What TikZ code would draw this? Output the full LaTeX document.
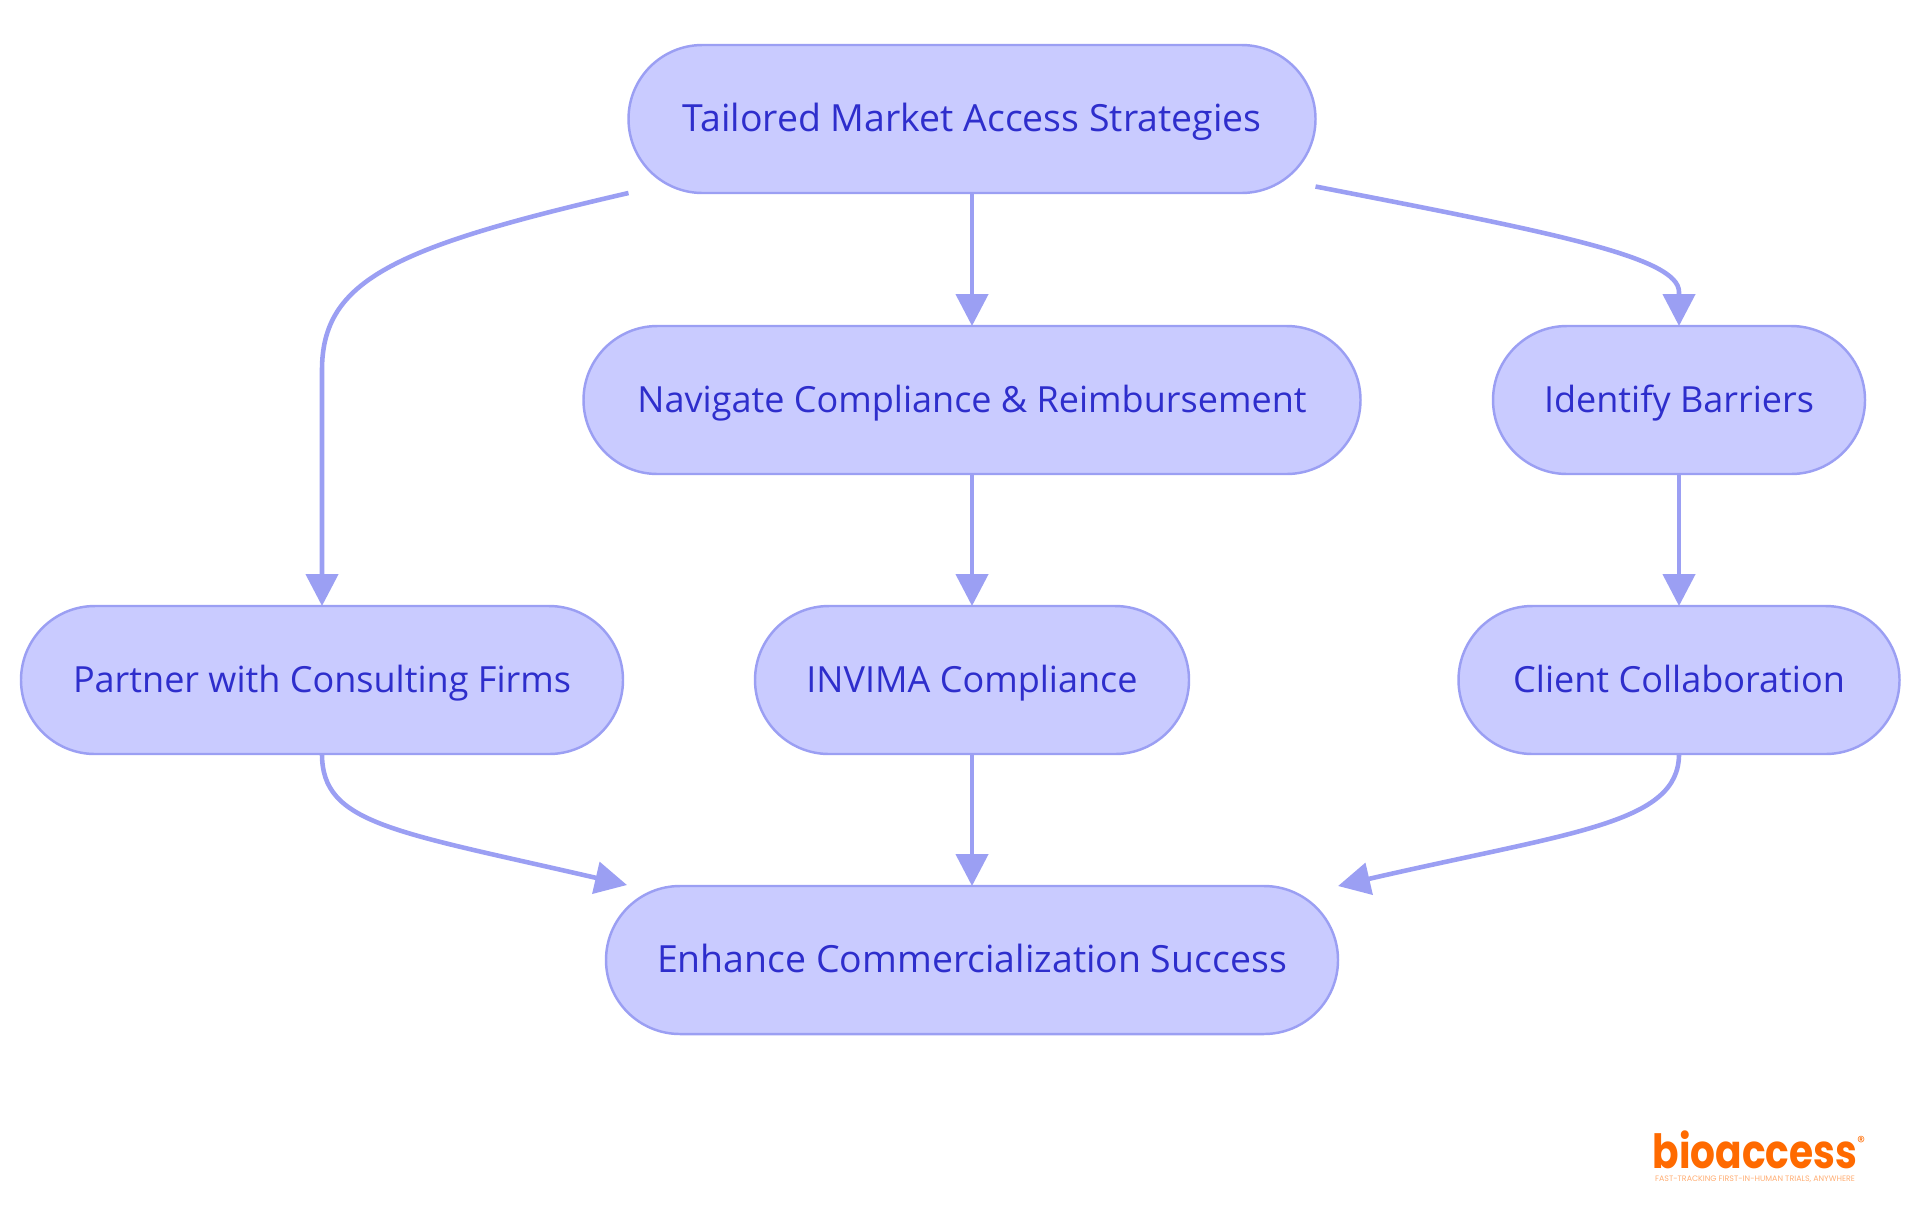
\documentclass[tikz,border=0pt]{standalone}
\usepackage{fontspec}
\setmainfont{Open Sans}
\newfontfamily\logofont{Poppins}
\usetikzlibrary{arrows.meta,calc}
\definecolor{boxfill}{HTML}{C9CBFF}
\definecolor{boxline}{HTML}{9B9FF3}
\definecolor{boxtext}{HTML}{2E2ECC}
\definecolor{logoorange}{HTML}{FF6A00}
\tikzset{
  flowbox/.style={draw=boxline,fill=boxfill,text=boxtext,line width=0.7pt,rounded corners=0.74cm,
    minimum height=1.48cm,inner sep=0pt,outer sep=0pt,text height=0.4cm,text depth=0.16cm,
    font=\fontsize{10.25}{12}\selectfont},
  widebox/.style={flowbox,font=\fontsize{10.65}{12}\selectfont},
  flowline/.style={draw=boxline,line width=1.3pt,-{Triangle[length=0.32cm,width=0.32cm]}},
}
\begin{document}
\begin{tikzpicture}
        \useasboundingbox (0,0) rectangle (19.2,-12.15);

        \node[widebox,minimum width=6.87cm] (tailored) at (9.72,-1.19) {Tailored Market Access Strategies};
        \node[flowbox,minimum width=7.77cm] (navigate) at (9.72,-4) {Navigate Compliance \& Reimbursement};
        \node[flowbox,minimum width=3.72cm] (identify) at (16.79,-4) {Identify Barriers};
        \node[flowbox,minimum width=6.02cm] (partner) at (3.22,-6.8) {Partner with Consulting Firms};
        \node[flowbox,minimum width=4.34cm] (invima) at (9.72,-6.8) {INVIMA Compliance};
        \node[flowbox,minimum width=4.41cm] (client) at (16.79,-6.8) {Client Collaboration};
        \node[widebox,minimum width=7.32cm] (enhance) at (9.72,-9.6) {Enhance Commercialization Success};

        \coordinate (tailoredout) at ($(tailored.south east)+(0,0.065)$);
        \coordinate (enhancein) at ($(enhance.north west)+(0.21,0.01)$);
        \coordinate (partnerbend) at ($(partner.north)+(0,2.36)$);
        \coordinate (identifybend) at ($(identify.north)+(0,0.34)$);

        \draw[flowline] (tailored.south west) to[out=193,in=90,out distance=2.4cm,in distance=0.9cm] (partnerbend) -- (partner.north);
        \draw[flowline] (tailored) -- (navigate);
        \draw[flowline] (tailoredout) to[out=-11,in=90,out distance=2.4cm,in distance=0.35cm] (identifybend) -- (identify.north);
        \draw[flowline] (navigate) -- (invima);
        \draw[flowline] (identify) -- (client);
        \draw[flowline] (partner.south) to[out=-90,in=167,out distance=0.7cm,in distance=2.4cm] (enhancein);
        \draw[flowline] (invima) -- (enhance);
        \draw[flowline] (client.south) to[out=-90,in=13,out distance=0.7cm,in distance=2.4cm] (enhance.north east);

        \node[text=logoorange,inner sep=0pt,xscale=0.83,transform shape,font=\logofont\bfseries\fontsize{13.4}{16}\selectfont] (logo) at (17.55,-11.5) {bioaccess};
        \node[text=logoorange,inner sep=0pt,font=\logofont\fontsize{4.5}{5}\selectfont] (logomark) at (18.61,-11.42) {®};
        \node[text=logoorange!55,inner sep=0pt,font=\logofont\fontsize{2.25}{3}\selectfont] (tagline) at (17.55,-11.79) {FAST-TRACKING FIRST-IN-HUMAN TRIALS, ANYWHERE};
\end{tikzpicture}
\end{document}
